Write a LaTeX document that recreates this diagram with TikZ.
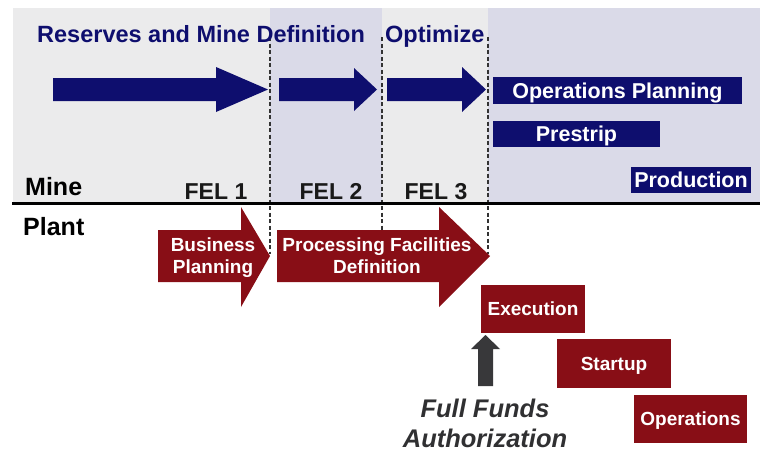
\documentclass[tikz,border=0pt]{standalone}
\usepackage{fontspec}
\setmainfont{Liberation Sans}
\definecolor{navy}{RGB}{14,14,110}
\definecolor{maroon}{RGB}{136,14,22}
\definecolor{panelgray}{RGB}{235,235,236}
\definecolor{lavender}{RGB}{218,218,232}
\definecolor{shaftgray}{RGB}{56,56,58}
\definecolor{notegray}{RGB}{48,48,50}

\begin{document}
\begin{tikzpicture}[x=1pt,y=-1pt,
  phase/.style={font=\fontsize{23.5}{28}\selectfont\bfseries, text=navy, inner sep=0pt, anchor=base west},
  lane/.style={font=\fontsize{25}{30}\selectfont\bfseries, inner sep=0pt, anchor=base west},
  gate/.style={font=\fontsize{23}{28}\selectfont\bfseries, text=black!90, inner sep=0pt, anchor=base},
  minebar/.style={fill=navy, text=white, font=\fontsize{21.5}{26}\selectfont\bfseries,
    inner sep=0pt, text height=15.4pt, text depth=0pt},
  plantbox/.style={fill=maroon, text=white, font=\fontsize{19}{22}\selectfont\bfseries,
    inner sep=0pt, text height=13.6pt, text depth=0pt, minimum width=104pt, minimum height=48pt},
  arrowtext/.style={text=white, font=\fontsize{19}{22}\selectfont\bfseries, align=center, inner sep=0pt},
  gateline/.style={line width=1.1pt, dash pattern=on 4pt off 2.5pt, draw=black!80},
]
\useasboundingbox (0,0) rectangle (765,453);

% panels of the mine lane
\fill[panelgray] (13,8) rectangle (760,203);
\fill[lavender] (270,8) rectangle (382,203);
\fill[lavender] (488,8) rectangle (760,203);

% stage gates
\coordinate (g1t) at (270,37); \coordinate (g1b) at (270,254);
\coordinate (g2t) at (382,37); \coordinate (g2b) at (382,254);
\coordinate (g3t) at (488,37); \coordinate (g3b) at (488,254);
\draw[gateline] (g1t) -- (g1b);
\draw[gateline] (g2t) -- (g2b);
\draw[gateline] (g3t) -- (g3b);

% lane divider
\coordinate (divL) at (12,203); \coordinate (divR) at (760,203);
\draw[line width=3pt] (divL) -- (divR);

% phase titles
\node[phase] (reserves) at (37,42) {Reserves and Mine Definition};
\node[phase] (optimize) at (385,42) {Optimize};

% mine lane block arrows
\fill[navy] (53,78) -- (216,78) -- (216,67) -- (268,89.5) -- (216,112) -- (216,101) -- (53,101) -- cycle;
\fill[navy] (279,78) -- (354,78) -- (354,68) -- (377,89.5) -- (354,111) -- (354,101) -- (279,101) -- cycle;
\fill[navy] (387,78) -- (462,78) -- (462,67) -- (486,89.5) -- (462,112) -- (462,101) -- (387,101) -- cycle;

% mine lane activities
\node[minebar, minimum width=249pt, minimum height=27pt] (opsplan) at (617.5,90.5) {Operations Planning};
\node[minebar, minimum width=167pt, minimum height=26pt] (prestrip) at (576.5,134) {Prestrip};
\node[minebar, minimum width=120pt, minimum height=26pt] (production) at (691,180) {Production};

% lane labels
\node[lane] (mine) at (25,195) {Mine};
\node[lane] (plant) at (23,235) {Plant};

% FEL gates
\node[gate] (fel1) at (216,199) {FEL 1};
\node[gate] (fel2) at (331,199) {FEL 2};
\node[gate] (fel3) at (436,199) {FEL 3};

% plant lane block arrows
\fill[maroon] (158,230) -- (241,230) -- (241,207) -- (270,256) -- (241,307) -- (241,282) -- (158,282) -- cycle;
\fill[maroon] (277,230) -- (439,230) -- (439,207) -- (490,256) -- (439,307) -- (439,282) -- (277,282) -- cycle;
\node[arrowtext] (business) at (213,257.5) {Business\\Planning};
\node[arrowtext] (processing) at (377,256) {Processing Facilities\\Definition};

% plant lane activities
\node[plantbox] (execution) at (533,309) {Execution};
\node[plantbox, minimum width=114pt, minimum height=49pt] (startup) at (614,363.5) {Startup};
\node[plantbox, minimum width=113pt] (operations) at (690.5,419) {Operations};

% full funds authorization
\node[font=\fontsize{25.5}{30}\selectfont\bfseries\itshape, text=notegray, align=center, inner sep=0pt]
  (ffa) at (485,423) {Full Funds\\Authorization};
\fill[shaftgray] (478,386) -- (478,349) -- (471,349) -- (485.5,335) -- (500,349) -- (493,349) -- (493,386) -- cycle;

\end{tikzpicture}
\end{document}
